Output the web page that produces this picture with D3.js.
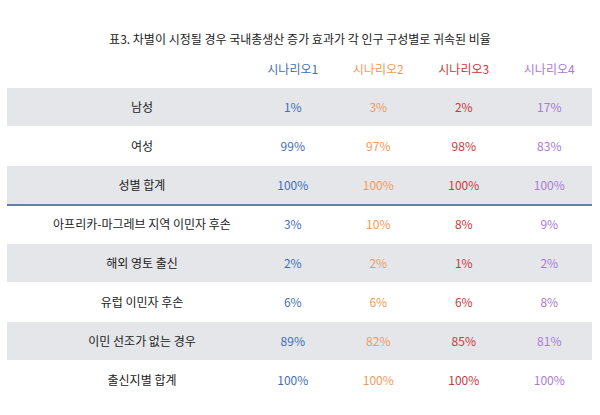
<!DOCTYPE html><html><head><meta charset="utf-8"><script src="https://cdn.jsdelivr.net/npm/d3@7"></script>
<style>body{margin:0;background:#fff}</style></head><body><svg id="c" width="600" height="415"></svg>
<script>
const title="표3. 차별이 시정될 경우 국내총생산 증가 효과가 각 인구 구성별로 귀속된 비율";
const scenarios=["시나리오1","시나리오2","시나리오3","시나리오4"];
const colors=["#3f6fb5","#ef9a5a","#c8393a","#a97ad6"];
const rowLabels=["남성","여성","성별 합계","아프리카-마그레브 지역 이민자 후손","해외 영토 출신","유럽 이민자 후손","이민 선조가 없는 경우","출신지별 합계"];
const s1=[1,99,100,3,2,6,89,100];
const s2=[3,97,100,10,2,6,82,100];
const s3=[2,98,100,8,1,6,85,100];
const s4=[17,83,100,9,2,8,81,100];
const series=[s1,s2,s3,s4];
const svg=d3.select("#c");
const font="'Noto Sans CJK KR','Noto Sans',sans-serif";
svg.append("text").attr("x",300).attr("y",44).attr("text-anchor","middle").attr("font-family",font).attr("font-size",12).attr("fill","#222").text(title);
const y=d3.scaleBand().domain(d3.range(rowLabels.length)).range([88,400]).paddingInner(0);
const x=d3.scaleBand().domain(scenarios).range([250,592]);
const g=svg.append("g");
rowLabels.forEach((l,i)=>{
  if(i%2===0) g.append("rect").attr("x",7).attr("width",585).attr("y",y(i)).attr("height",y.bandwidth()-1).attr("fill","#e5e6ea");
  g.append("text").attr("x",142).attr("y",y(i)+y.bandwidth()/2).attr("dy","0.35em").attr("text-anchor","middle").attr("font-family",font).attr("font-size",12).attr("fill","#222").text(l);
  series.forEach((s,j)=>{
    g.append("text").attr("x",x(scenarios[j])+x.bandwidth()/2).attr("y",y(i)+y.bandwidth()/2).attr("dy","0.35em").attr("text-anchor","middle").attr("font-family",font).attr("font-size",12).attr("fill",colors[j]).text(s[i]+"%");
  });
});
scenarios.forEach((s,j)=>svg.append("text").attr("x",x(s)+x.bandwidth()/2).attr("y",70).attr("dy","0.35em").attr("text-anchor","middle").attr("font-family",font).attr("font-size",12).attr("fill",colors[j]).text(s));
svg.append("line").attr("x1",7).attr("x2",592).attr("y1",y(3)).attr("y2",y(3)).attr("stroke","#2e5a8a").attr("stroke-width",1.5);
</script></body></html>
